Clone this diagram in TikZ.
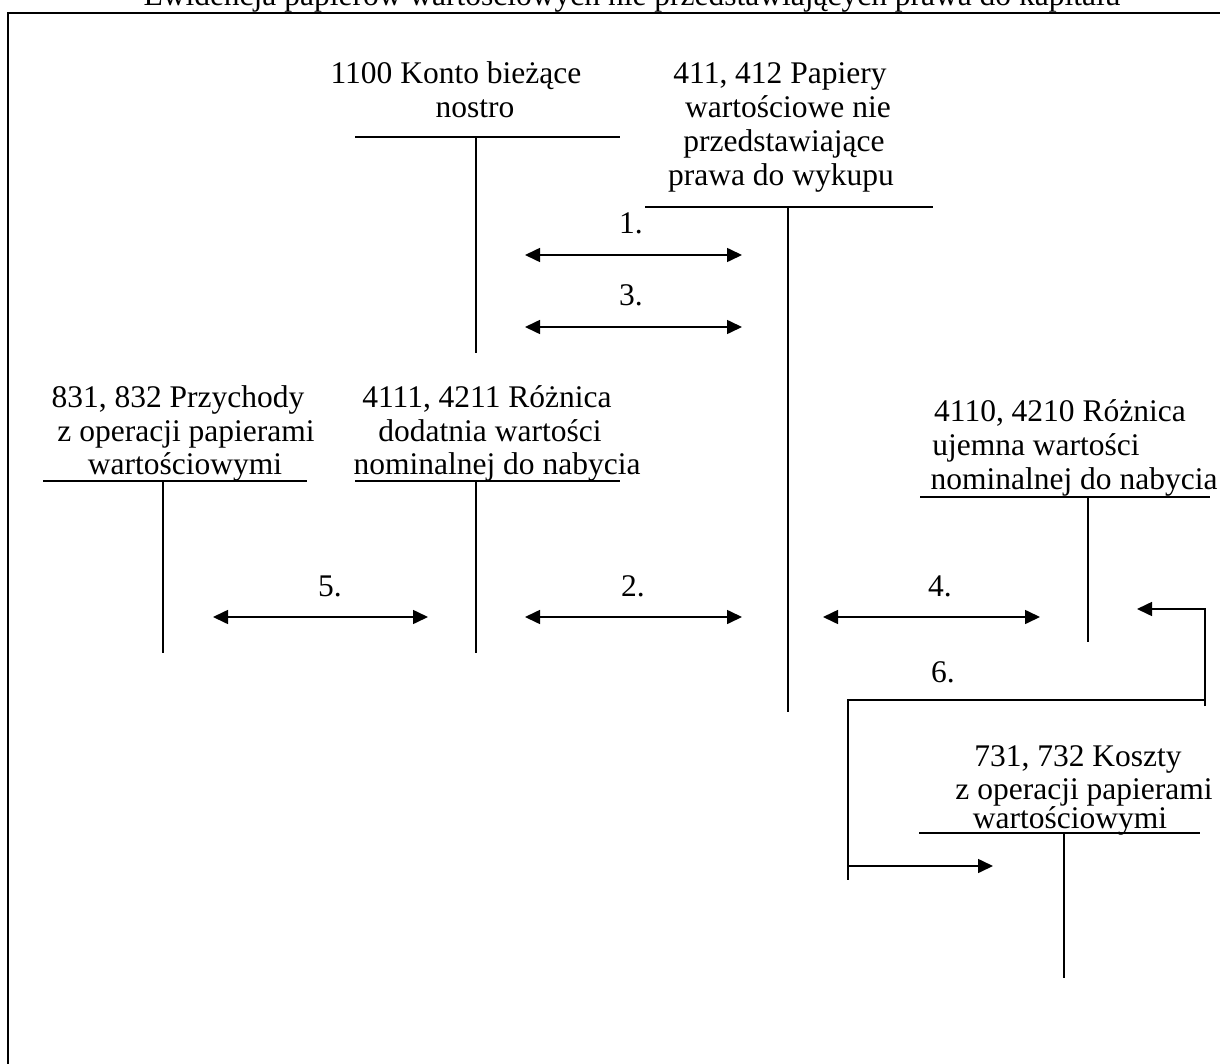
\documentclass[tikz,border=0pt]{standalone}
\usepackage{fontspec}
\setmainfont{Liberation Serif}
\usetikzlibrary{arrows.meta}
\begin{document}
\begin{tikzpicture}[x=1pt,y=-1pt,
  txt/.style={anchor=base,inner sep=0pt,font=\fontsize{31.5}{34}\selectfont},
  tline/.style={line width=1.6pt},
  dbl/.style={line width=1.6pt,{Triangle[length=15pt,width=14pt]}-{Triangle[length=15pt,width=14pt]}},
  sgl/.style={line width=1.6pt,-{Triangle[length=15pt,width=14pt]}}]
\useasboundingbox (0,0) rectangle (1220,1064);
\clip (0,0) rectangle (1220,1064);
% frame
\draw[line width=1.8pt] (8,1100) -- (8,13) -- (1240,13);
\node[txt] (title) at (632,6) {Ewidencja papierów wartościowych nie przedstawiających prawa do kapitału};

% account 1100
\node[txt] (k1100a) at (456,84) {1100 Konto bieżące};
\node[txt] (k1100b) at (475,118) {nostro};
\coordinate (k1100l) at (355,137);
\coordinate (k1100r) at (620,137);
\coordinate (k1100t) at (476,137);
\coordinate (k1100d) at (476,353);
\draw[tline] (k1100l) -- (k1100r);
\draw[tline] (k1100t) -- (k1100d);

% account 411, 412
\node[txt] (k411a) at (780,84) {411, 412 Papiery};
\node[txt] (k411b) at (788,118) {wartościowe nie};
\node[txt] (k411c) at (784,152) {przedstawiające};
\node[txt] (k411d) at (781,186) {prawa do wykupu};
\coordinate (k411l) at (645,207);
\coordinate (k411r) at (933,207);
\coordinate (k411t) at (788,207);
\coordinate (k411d) at (788,712);
\draw[tline] (k411l) -- (k411r);
\draw[tline] (k411t) -- (k411d);

% account 831, 832
\node[txt] (k831a) at (178,407) {831, 832 Przychody};
\node[txt] (k831b) at (186,441) {z operacji papierami};
\node[txt] (k831c) at (185,474) {wartościowymi};
\coordinate (k831l) at (43,481);
\coordinate (k831r) at (307,481);
\coordinate (k831t) at (163,481);
\coordinate (k831d) at (163,653);
\draw[tline] (k831l) -- (k831r);
\draw[tline] (k831t) -- (k831d);

% account 4111, 4211
\node[txt] (k4111a) at (487,407) {4111, 4211 Różnica};
\node[txt] (k4111b) at (490,441) {dodatnia wartości};
\node[txt] (k4111c) at (497,474) {nominalnej do nabycia};
\coordinate (k4111l) at (355,481);
\coordinate (k4111r) at (620,481);
\coordinate (k4111t) at (476,481);
\coordinate (k4111d) at (476,653);
\draw[tline] (k4111l) -- (k4111r);
\draw[tline] (k4111t) -- (k4111d);

% account 4110, 4210
\node[txt] (k4110a) at (1060,421) {4110, 4210 Różnica};
\node[txt] (k4110b) at (1036,455) {ujemna wartości};
\node[txt] (k4110c) at (1074,489) {nominalnej do nabycia};
\coordinate (k4110l) at (920,497);
\coordinate (k4110r) at (1210,497);
\coordinate (k4110t) at (1088,497);
\coordinate (k4110d) at (1088,642);
\draw[tline] (k4110l) -- (k4110r);
\draw[tline] (k4110t) -- (k4110d);

% account 731, 732
\node[txt] (k731a) at (1078,766) {731, 732 Koszty};
\node[txt] (k731b) at (1084,799) {z operacji papierami};
\node[txt] (k731c) at (1070,828) {wartościowymi};
\coordinate (k731l) at (919,833);
\coordinate (k731r) at (1200,833);
\coordinate (k731t) at (1064,833);
\coordinate (k731d) at (1064,978);
\draw[tline] (k731l) -- (k731r);
\draw[tline] (k731t) -- (k731d);

% postings 1 and 3
\coordinate (p1l) at (525,255);
\coordinate (p1r) at (742,255);
\draw[dbl] (p1l) -- (p1r);
\node[txt] (n1) at (631,234) {1.};
\coordinate (p3l) at (525,327);
\coordinate (p3r) at (742,327);
\draw[dbl] (p3l) -- (p3r);
\node[txt] (n3) at (631,306) {3.};

% postings 5, 2 and 4
\coordinate (p5l) at (213,617);
\coordinate (p5r) at (428,617);
\draw[dbl] (p5l) -- (p5r);
\node[txt] (n5) at (330,596) {5.};
\coordinate (p2l) at (525,617);
\coordinate (p2r) at (742,617);
\draw[dbl] (p2l) -- (p2r);
\node[txt] (n2) at (633,596) {2.};
\coordinate (p4l) at (823,617);
\coordinate (p4r) at (1040,617);
\draw[dbl] (p4l) -- (p4r);
\node[txt] (n4) at (940,596) {4.};

% posting 6
\coordinate (p6a) at (1137,609);
\coordinate (p6b) at (1205,609);
\coordinate (p6c) at (1205,706);
\coordinate (p6d) at (1205,700);
\coordinate (p6e) at (848,700);
\coordinate (p6f) at (848,880);
\coordinate (p6g) at (848,866);
\coordinate (p6h) at (993,866);
\draw[tline,-{Triangle[length=15pt,width=14pt]}] (p6c) -- (p6b) -- (p6a);
\draw[tline] (p6d) -- (p6e) -- (p6f);
\draw[sgl] (p6g) -- (p6h);
\node[txt] (n6) at (943,682) {6.};
\end{tikzpicture}
\end{document}
